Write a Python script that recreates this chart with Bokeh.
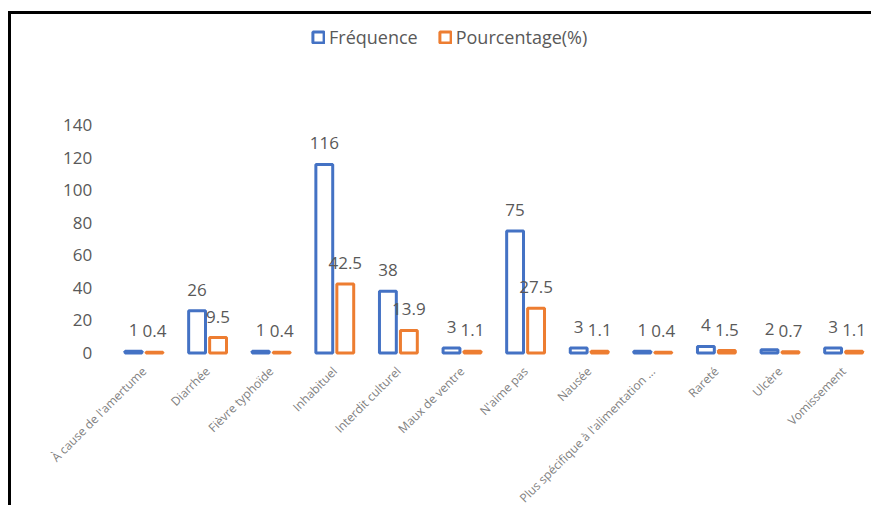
import math

from bokeh.core.properties import value
from bokeh.embed import file_html
from bokeh.models import (ColumnDataSource, FixedTicker, Legend, LegendItem, Range1d)
from bokeh.plotting import figure
from bokeh.resources import INLINE
from bokeh.transform import dodge

# Reasons given, with their counts and shares
categories = [
    "À cause de l'amertume",
    "Diarrhée",
    "Fièvre typhoïde",
    "Inhabituel",
    "Interdit culturel",
    "Maux de ventre",
    "N'aime pas",
    "Nausée",
    "Plus spécifique à l'alimentation ...",
    "Rareté",
    "Ulcère",
    "Vomissement",
]
frequence = [1, 26, 1, 116, 38, 3, 75, 3, 1, 4, 2, 3]
pourcentage = [0.4, 9.5, 0.4, 42.5, 13.9, 1.1, 27.5, 1.1, 0.4, 1.5, 0.7, 1.1]
y_ticks = [0, 20, 40, 60, 80, 100, 120, 140]

BLUE = "#4472C4"
ORANGE = "#ED7D31"
GREY = "#595959"
FONT = "Open Sans"

positions = list(range(len(categories)))

src = ColumnDataSource(dict(
    pos=positions,
    freq=frequence,
    pct=pourcentage,
    freq_lbl=[str(v) for v in frequence],
    pct_lbl=[f"{v:g}" for v in pourcentage],
))

# The plotting frame fills the whole canvas; both axes sit at fixed data
# locations inside it so that the labels can be placed freely.
p = figure(
    width=863, height=494,
    x_range=Range1d(-2.083, 11.486),
    y_range=Range1d(-95.7, 208.3),
    output_backend="svg", toolbar_location=None,
    min_border=0,
    background_fill_color="white", border_fill_color="white",
)
# black frame on the top and left edges of the chart
p.styles = {
    "border-top": "3px solid black",
    "border-left": "3px solid black",
    "margin-left": "8px",
    "margin-top": "11px",
}
p.outline_line_color = None
p.grid.grid_line_color = None

OFF = 0.165
BW = 0.265

r_freq = p.vbar(x=dodge("pos", -OFF), top="freq", bottom=0, width=BW,
                fill_color="white", line_color=BLUE, line_width=3, source=src)
r_pct = p.vbar(x=dodge("pos", OFF), top="pct", bottom=0, width=BW,
               fill_color="white", line_color=ORANGE, line_width=3, source=src)

for col, lbl, off in (("freq", "freq_lbl", -OFF), ("pct", "pct_lbl", OFF)):
    p.text(x=dodge("pos", off), y=col, text=lbl, source=src,
           text_align="center", text_baseline="middle", y_offset=-21,
           text_font=value(FONT), text_font_size="17px", text_color=GREY)

# Value axis
p.yaxis.fixed_location = -0.5
p.yaxis.ticker = FixedTicker(ticks=y_ticks)
p.yaxis.axis_line_color = None
p.yaxis.major_tick_line_color = None
p.yaxis.minor_tick_line_color = None
p.yaxis.major_tick_out = 0
p.yaxis.major_tick_in = 0
p.yaxis.major_label_standoff = 20
p.yaxis.major_label_text_font = FONT
p.yaxis.major_label_text_font_size = "17px"
p.yaxis.major_label_text_color = GREY

# Category axis
p.xaxis.fixed_location = 0
p.xaxis.ticker = FixedTicker(ticks=positions)
p.xaxis.major_label_overrides = {i: c for i, c in zip(positions, categories)}
p.xaxis.axis_line_color = None
p.xaxis.major_tick_line_color = None
p.xaxis.minor_tick_line_color = None
p.xaxis.major_tick_out = 0
p.xaxis.major_tick_in = 0
p.xaxis.major_label_standoff = 16
p.xaxis.major_label_orientation = math.pi / 4
p.xaxis.major_label_text_font = FONT
p.xaxis.major_label_text_font_size = "12px"
p.xaxis.major_label_text_color = "#7f7f7f"

# Legend across the top
legend = Legend(
    items=[LegendItem(label="Fréquence", renderers=[r_freq]),
           LegendItem(label="Pourcentage(%)", renderers=[r_pct])],
    orientation="horizontal", location=(300, 459),
    glyph_width=14, glyph_height=14, label_height=14, label_standoff=4, spacing=20,
    padding=0, margin=0, border_line_color=None, background_fill_alpha=0,
    label_text_font=FONT, label_text_font_size="18px", label_text_color=GREY,
)
p.add_layout(legend, "center")

open("out.html", "w").write(file_html(p, INLINE))
